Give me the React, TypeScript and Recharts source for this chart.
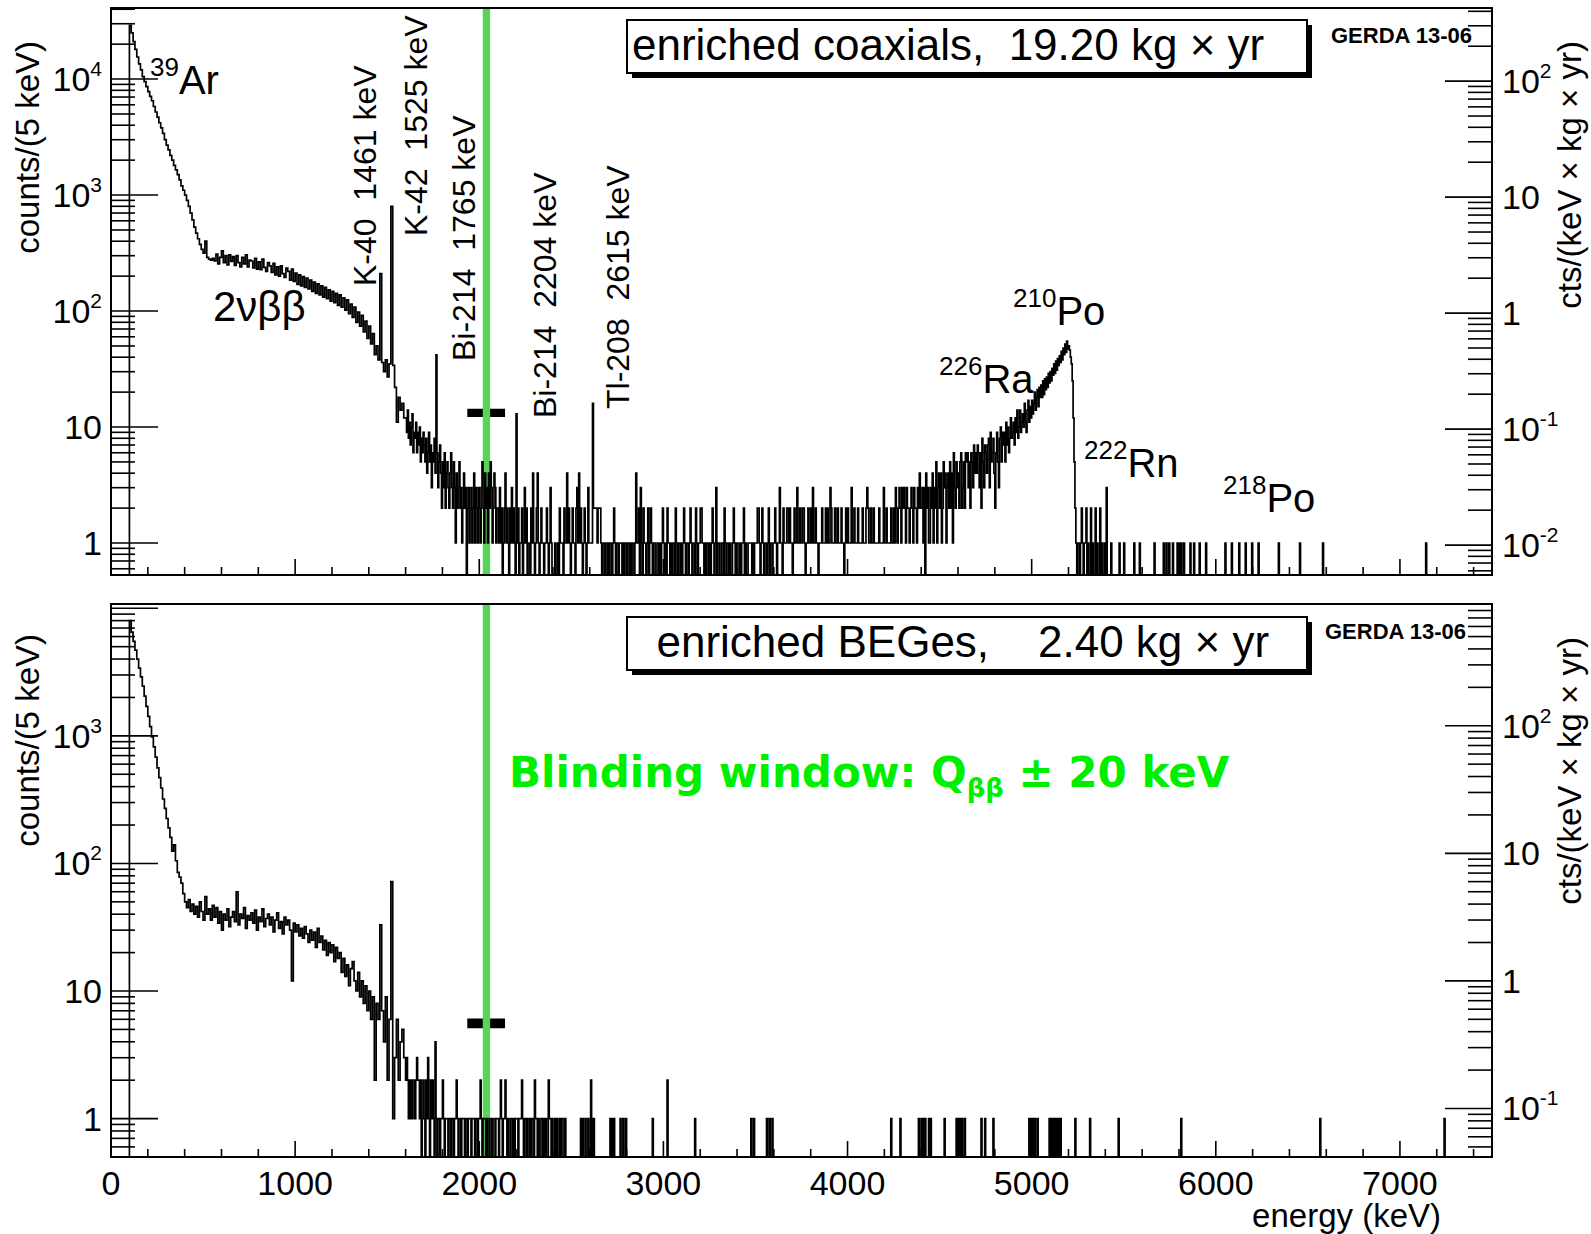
import React from 'react';
import { ComposedChart, Line, XAxis, YAxis, ReferenceArea } from 'recharts';

const W = 1591;
const H = 1234;
const X_MAX = 7500;
const BIN = 5; // keV per bin
const FLOOR = 0.1; // empty bins sit below the log axis and get clipped

// ---------------- enriched coaxials (19.20 kg x yr), counts / 5 keV ----------------
const COAX_EXPOSURE = 19.2;
// 39Ar region, 10 keV steps from 100 keV
const coaxArgon = [
  29000, 25000, 21000, 18000, 15500, 13500, 12000, 10500, 9500, 8600,
  7800, 7100, 6500, 5800, 5200, 4700, 4200, 3800, 3400, 3000,
  2700, 2450, 2200, 2000, 1800, 1650, 1500, 1350, 1200, 1100,
  1000, 900, 800, 700, 610, 530, 470, 420, 375, 340,
  315, 400, 290, 280, 275, 285,
];
// 2nbb continuum + K lines, 10 keV steps from 560 keV
const coaxTwoNu = [
  270, 310, 255, 290, 330, 262, 300, 250, 305, 268,
  295, 248, 300, 262, 240, 290, 255, 305, 240, 275,
  270, 235, 285, 230, 265, 228, 280, 238, 220, 262,
  245, 215, 258, 205, 240, 200, 245, 210, 195, 235,
  220, 185, 230, 180, 212, 170, 205, 165, 198, 160,
  192, 155, 185, 148, 178, 142, 172, 138, 165, 132,
  160, 128, 152, 122, 148, 118, 142, 112, 138, 108,
  130, 102, 125, 95, 115, 88, 108, 80, 98, 74,
  92, 66, 82, 58, 74, 52, 64, 42, 50, 38,
  210, 36, 30, 38, 27, 35, 800, 34, 22, 11,
  18, 14, 16, 12,
];
// 5 keV bins from 1600 keV
const coaxEdge = [
  12, 9, 14, 8, 11, 7, 10, 13, 6, 9,
  8, 11, 6, 9, 7, 10, 5, 8, 6, 9,
  7, 5, 8, 4, 6, 9, 5, 7, 3, 6,
  5, 8, 4, 42, 6, 3, 5, 7, 4, 2,
  5, 3, 6, 2, 4, 5, 3, 2, 4, 6,
  3, 2, 5, 3, 1, 4, 2, 3, 5, 2,
  3, 1, 2, 4, 2, 3, 0, 2, 3, 1,
  2, 3, 1, 2, 4, 1, 3, 2, 1, 3,
  2, 1, 3, 5, 2, 1, 4, 2, 3, 1,
  4, 2, 5, 3, 1, 2, 4, 3, 1, 2,
];
// 5 keV bins from 2100 keV
const coaxFlat = [
  2, 1, 3, 1, 2, 0, 1, 2, 4, 1, 2, 1, 0, 2, 1, 3, 1, 2, 1, 0,
  13, 1, 2, 0, 1, 1, 2, 0, 1, 3, 1, 2, 0, 1, 1, 0, 2, 1, 4, 1,
  0, 1, 2, 4, 1, 0, 1, 2, 1, 1,
  0, 1, 1, 2, 1, 0, 1, 3, 1, 0, 0, 0, 1, 0, 0, 1, 0, 2, 1, 1,
  1, 0, 2, 1, 1, 4, 1, 2, 1, 0, 1, 2, 1, 1, 0, 2, 3, 1, 4, 1,
  2, 1, 0, 1, 2, 1, 0, 1, 3, 1,
  1, 1, 1, 16, 2, 2, 2, 2, 1, 2, 2, 2, 1, 0, 1, 1, 0, 1, 1, 0,
  1, 0, 1, 1, 0, 1, 2, 1, 0, 1, 1, 0, 1, 1, 1, 0, 1, 0, 1, 1,
  0, 1, 1, 0, 1, 0, 1, 1, 0, 1,
  4, 1, 1, 2, 0, 3, 1, 0, 2, 1, 1, 0, 1, 2, 0, 1, 2, 1, 0, 1,
  1, 0, 0, 1, 1, 0, 1, 0, 1, 2, 1, 0, 1, 0, 2, 1, 1, 0, 1, 0,
  1, 1, 0, 2, 1, 0, 1, 1, 0, 1,
  0, 1, 2, 1, 0, 1, 1, 0, 1, 2, 1, 0, 1, 1, 0, 2, 1, 0, 1, 1,
  2, 2, 1, 1, 0, 1, 0, 1, 1, 0, 1, 0, 1, 2, 1, 0, 1, 3, 0, 1,
  1, 0, 0, 1, 1, 0, 2, 1, 0, 1,
  1, 0, 1, 0, 0, 1, 2, 1, 0, 1, 1, 0, 0, 1, 0, 1, 1, 2, 0, 1,
  0, 0, 1, 1, 1, 1, 0, 1, 0, 1, 1, 1, 2, 2, 1, 0, 1, 2, 1, 0,
  1, 1, 0, 1, 2, 0, 1, 1, 0, 1,
  1, 2, 1, 0, 1, 1, 3, 1, 1, 0, 2, 1, 1, 1, 2, 2, 1, 2, 1, 1,
  0, 1, 2, 1, 1, 3, 1, 1, 2, 1, 1, 2, 2, 1, 0, 1, 1, 2, 1, 1,
  2, 1, 3, 1, 1, 2, 1, 1, 0, 1,
  1, 1, 2, 1, 1, 1, 2, 1, 2, 1, 1, 3, 2, 1, 1, 1, 2, 1, 1, 2,
  1, 1, 1, 2, 1, 1, 0, 1, 2, 1, 2, 1, 1, 1, 3, 1, 1, 2, 1, 1,
  1, 2, 1, 1, 1, 1, 2, 1, 1, 1,
  2, 3, 2, 1, 1, 2, 1, 1, 2, 1, 1, 1, 1, 1, 2, 1, 1, 1, 1, 3,
  1, 1, 2, 1, 1, 1, 1, 2, 1, 1, 2, 1, 3, 2, 1, 2, 3, 2, 1, 3,
  2, 3, 2, 1, 3, 2, 2, 1, 2, 3,
  2, 1, 3, 2, 2, 1, 3, 2, 4, 2,
];
// alpha region, 5 keV bins from 4400 keV
const coaxAlpha = [
  2, 3, 1, 3, 0, 4, 2, 3, 1, 1, 3, 2, 4, 1, 3, 2, 5, 1, 3, 4,
  2, 4, 1, 2, 5, 3, 4, 1, 3, 4, 2, 5, 2, 4, 1, 6, 3, 2, 5, 3,
  4, 2, 5, 6, 2, 3, 5, 2, 6, 5,
  6, 3, 5, 2, 6, 5, 3, 7, 4, 6, 4, 7, 6, 3, 6, 2, 8, 5, 3, 7,
  6, 4, 7, 8, 3, 9, 5, 6, 8, 4, 2, 6, 9, 5, 3, 8, 10, 5, 9, 7,
  9, 5, 11, 7, 10, 6, 8, 12, 8, 9,
  11, 7, 12, 9, 14, 8, 10, 14, 9, 11, 13, 10, 16, 11, 9, 14, 17, 11, 15, 12,
  17, 13, 16, 20, 14, 18, 21, 15, 22, 18, 23, 18, 25, 19, 26, 21, 27, 22, 29, 24,
  30, 25, 32, 28, 35, 29, 37, 31, 39, 34,
  41, 36, 45, 38, 48, 42, 52, 44, 55, 47, 50, 46, 40, 35, 25, 12, 5, 2, 1, 0,
  1, 1, 0, 1, 2, 1, 0, 1, 1, 2,
];
// single occupied bins above 5300 keV: [bin start keV, counts]
const coaxHigh: [number, number][] = [
  [5305, 1], [5320, 2], [5330, 1], [5345, 2], [5355, 1], [5370, 2], [5380, 1], [5395, 1],
  [5405, 3], [5430, 1], [5475, 1], [5500, 1], [5555, 1], [5585, 1], [5665, 1], [5715, 1],
  [5730, 1], [5745, 1], [5765, 1], [5790, 1], [5800, 1], [5810, 1], [5825, 1], [5860, 1],
  [5880, 1], [5910, 1], [5945, 1], [6050, 1], [6085, 1], [6125, 1], [6160, 1], [6195, 1],
  [6230, 1], [6340, 1], [6455, 1], [6580, 1], [7140, 1],
];

// ---------------- enriched BEGes (2.40 kg x yr), counts / 5 keV ----------------
const BEGE_EXPOSURE = 2.4;
const begeArgon = [
  8000, 6500, 5500, 4700, 4000, 3400, 2900, 2450, 2050, 1700,
  1420, 1180, 980, 820, 680, 560, 470, 390, 320, 270,
  225, 190, 160, 125, 140, 105, 85, 78, 70, 58,
  50, 45, 52, 42, 48, 40, 46, 38, 50, 42,
  36, 55, 40, 44, 36, 47,
];
const begeTwoNu = [
  38, 45, 34, 42, 30, 40, 36, 44, 32, 38,
  42, 35, 60, 33, 40, 37, 45, 31, 39, 36,
  41, 34, 43, 30, 38, 35, 44, 32, 37, 40,
  33, 38, 29, 36, 41, 31, 35, 28, 38, 33,
  36, 30, 12, 34, 29, 33, 27, 31, 26, 32,
  28, 24, 30, 25, 29, 22, 31, 24, 27, 21,
  25, 19, 24, 20, 23, 17, 22, 18, 20, 14,
  18, 13, 16, 11, 15, 17, 12, 10, 14, 9,
  12, 8, 11, 7, 10, 6, 9, 2, 8, 6,
  33, 7, 4, 9, 2, 6, 72, 1, 3, 6,
  2, 4, 5, 3,
];
const begeEdge = [
  2, 3, 2, 1, 2, 1, 2, 1, 2, 2, 1, 2, 3, 2, 2, 1, 2, 0, 1, 2,
  1, 0, 2, 1, 3, 1, 0, 2, 1, 2, 1, 0, 4, 1, 0, 1, 1, 0, 1, 1,
  2, 1, 0, 1, 1, 1, 0, 1, 1, 0,
  1, 1, 0, 1, 1, 2, 1, 0, 1, 1, 0, 1, 1, 1, 0, 1, 1, 0, 1, 1,
  1, 0, 1, 1, 1, 0, 1, 1, 0, 1, 1, 2, 1, 0, 1, 1, 1, 0, 1, 0,
  0, 1, 1, 0, 1, 1, 0, 0, 1, 1,
  1, 0, 1, 2, 1, 0, 1, 1, 2, 1, 0, 1, 0, 0, 1, 1, 0, 1, 0, 1,
  1, 1, 0, 1, 1, 1, 2, 1, 0, 1, 1, 0, 1, 1, 0, 1, 0, 1, 1, 0,
  2, 1, 1, 0, 1, 0, 0, 1, 1, 0,
  1, 0, 1, 0, 0, 2, 1, 1, 0, 1, 0, 0, 1, 0, 1, 0, 0, 1, 0, 1,
  1, 0, 0, 1, 0, 0, 0, 0, 0, 0,
];
const begeHigh: [number, number][] = [
  [2550, 1], [2560, 1], [2575, 1], [2590, 1], [2605, 2], [2615, 1], [2620, 1], [2710, 1],
  [2720, 1], [2730, 1], [2765, 1], [2780, 1], [2795, 1], [2940, 1], [3020, 2], [3170, 1],
  [3475, 1], [3490, 1], [3560, 1], [3575, 1], [3590, 1], [4235, 1], [4285, 1], [4385, 1],
  [4400, 1], [4410, 1], [4420, 1], [4440, 1], [4450, 1], [4525, 1], [4590, 1], [4600, 1],
  [4610, 1], [4620, 1], [4635, 1], [4725, 1], [4745, 1], [4790, 1], [4985, 1], [4995, 1],
  [5005, 1], [5015, 1], [5030, 1], [5095, 1], [5105, 1], [5115, 1], [5125, 1], [5135, 1],
  [5145, 1], [5155, 1], [5235, 1], [5315, 1], [5470, 1], [5810, 1], [6565, 1], [7240, 1],
];

// blinding window (Qbb +- 20 keV) and blinded-count markers
const BLIND = [2019, 2059];
const BAR_X = [1935, 2140];
const coaxBar = [12.2, 14.4];
const begeBar = [5.1, 6.1];

type Seg = { start: number; step: number; values: number[] };
type Pt = { e: number; c: number };

function buildHist(segs: Seg[], sparseFrom: number, sparse: [number, number][]): Pt[] {
  const pts: Pt[] = [{ e: 0, c: FLOOR }];
  segs.forEach((s) =>
    s.values.forEach((v, i) => pts.push({ e: s.start + i * s.step, c: v > 0 ? v : FLOOR })),
  );
  pts.push({ e: sparseFrom, c: FLOOR });
  sparse.forEach(([e, c]) => {
    pts.push({ e, c });
    pts.push({ e: e + BIN, c: FLOOR });
  });
  pts.push({ e: X_MAX, c: FLOOR });
  return pts;
}

const coaxData = buildHist(
  [
    { start: 100, step: 10, values: coaxArgon },
    { start: 560, step: 10, values: coaxTwoNu },
    { start: 1600, step: 5, values: coaxEdge },
    { start: 2100, step: 5, values: coaxFlat },
    { start: 4400, step: 5, values: coaxAlpha },
  ],
  5300,
  coaxHigh,
);

const begeData = buildHist(
  [
    { start: 100, step: 10, values: begeArgon },
    { start: 560, step: 10, values: begeTwoNu },
    { start: 1600, step: 5, values: begeEdge },
  ],
  2500,
  begeHigh,
);

// ---------------- drawing helpers ----------------
const FONT = '"Liberation Sans", Arial, Helvetica, sans-serif';
const PLOT_L = 111;
const PLOT_R = 1492;
const AXIS_W = 60;
const GREEN_BAND = '#58d458';

const xTicks: number[] = [];
for (let v = 0; v < X_MAX; v += 200) xTicks.push(v);

function logTicks(lo: number, hi: number) {
  const out: number[] = [];
  for (let n = -3; n <= 5; n++) {
    for (let m = 1; m <= 9; m++) {
      const v = +(m * Math.pow(10, n)).toPrecision(3);
      if (v >= lo && v <= hi) out.push(v);
    }
  }
  return out;
}

const isDecade = (v: number) => Math.abs(Math.log10(v) - Math.round(Math.log10(v))) < 1e-6;

function PowLabel({ x, y, v, anchor }: { x: number; y: number; v: number; anchor: 'start' | 'end' }) {
  const n = Math.round(Math.log10(v));
  const base = n === 0 ? '1' : '10';
  const exp = n === 0 || n === 1 ? null : String(n);
  return (
    <text x={x} y={y + 12} textAnchor={anchor} fontFamily={FONT} fontSize={34} fill="#000">
      {base}
      {exp && (
        <tspan dy={-15} fontSize={21}>
          {exp}
        </tspan>
      )}
    </text>
  );
}

// ticks point into the frame; decades too close to the top edge get no label
const makeYTick = (side: 'left' | 'right', plotTop: number) => (props: any) => {
  const { y, payload } = props;
  const major = isDecade(payload.value);
  const len = major ? 47 : 24;
  const showLabel = major && y > plotTop + 12;
  return (
    <g>
      {side === 'left' ? (
        <line x1={PLOT_L} x2={PLOT_L + len} y1={y} y2={y} stroke="#000" strokeWidth={1.6} />
      ) : (
        <line x1={PLOT_R - len} x2={PLOT_R} y1={y} y2={y} stroke="#000" strokeWidth={1.6} />
      )}
      {showLabel && (
        <PowLabel
          x={side === 'left' ? PLOT_L - 9 : PLOT_R + 10}
          y={y}
          v={payload.value}
          anchor={side === 'left' ? 'end' : 'start'}
        />
      )}
    </g>
  );
};

const makeXTick = (bottom: number, labels: boolean) => (props: any) => {
  const { x, payload } = props;
  const major = payload.value % 1000 === 0;
  return (
    <g>
      <line x1={x} x2={x} y1={bottom} y2={bottom - (major ? 16 : 8)} stroke="#000" strokeWidth={1.6} />
      {labels && major && (
        <text x={x} y={bottom + 38} textAnchor="middle" fontFamily={FONT} fontSize={34} fill="#000">
          {payload.value}
        </text>
      )}
    </g>
  );
};

interface PanelProps {
  data: Pt[];
  lo: number;
  hi: number;
  perUnit: number;
  top: number;
  height: number;
  plotTop: number;
  plotBottom: number;
  xAxisH: number;
  xLabels: boolean;
  bar: number[];
}

const Panel = ({ data, lo, hi, perUnit, top, height, plotTop, plotBottom, xAxisH, xLabels, bar }: PanelProps) => {
  const margin = {
    top: plotTop,
    bottom: height - plotBottom - xAxisH,
    left: PLOT_L - AXIS_W,
    right: W - PLOT_R - AXIS_W,
  };
  return (
    <div style={{ position: 'absolute', left: 0, top, width: W, height }}>
      <ComposedChart width={W} height={height} data={data} margin={margin}>
        <XAxis
          xAxisId="x"
          dataKey="e"
          type="number"
          domain={[0, X_MAX]}
          allowDataOverflow
          ticks={xTicks}
          interval={0}
          height={xAxisH}
          axisLine={false}
          tickLine={false}
          tick={makeXTick(plotBottom, xLabels)}
        />
        <YAxis
          yAxisId="l"
          scale="log"
          domain={[lo, hi]}
          allowDataOverflow
          ticks={logTicks(lo, hi)}
          interval={0}
          width={AXIS_W}
          axisLine={false}
          tickLine={false}
          tick={makeYTick('left', plotTop)}
        />
        <YAxis
          yAxisId="r"
          orientation="right"
          scale="log"
          domain={[lo / perUnit, hi / perUnit]}
          allowDataOverflow
          ticks={logTicks(lo / perUnit, hi / perUnit)}
          interval={0}
          width={AXIS_W}
          axisLine={false}
          tickLine={false}
          tick={makeYTick('right', plotTop)}
        />
        <Line
          xAxisId="x"
          yAxisId="l"
          type="stepAfter"
          dataKey="c"
          stroke="#000"
          strokeWidth={1.7}
          dot={false}
          activeDot={false}
          isAnimationActive={false}
        />
        <ReferenceArea xAxisId="x" yAxisId="l" x1={BAR_X[0]} x2={BAR_X[1]} y1={bar[0]} y2={bar[1]} fill="#000" fillOpacity={1} stroke="none" />
        <ReferenceArea xAxisId="x" yAxisId="l" x1={BLIND[0]} x2={BLIND[1]} fill={GREEN_BAND} fillOpacity={1} stroke="none" />
      </ComposedChart>
    </div>
  );
};

const Iso = ({ x, y, mass, name }: { x: number; y: number; mass: string; name: string }) => (
  <text x={x} y={y} fontFamily={FONT} fontSize={40} fill="#000">
    <tspan fontSize={26} dy={-18}>
      {mass}
    </tspan>
    <tspan dy={18}>{name}</tspan>
  </text>
);

const Vert = ({ x, y, label }: { x: number; y: number; label: string }) => (
  <text
    transform={`translate(${x},${y}) rotate(-90)`}
    fontFamily={FONT}
    fontSize={32}
    fill="#000"
    style={{ whiteSpace: 'pre' }}
  >
    {label}
  </text>
);

const Legend = ({ y, label }: { y: number; label: string }) => (
  <g>
    <rect x={632} y={y + 5} width={680} height={53} fill="#000" />
    <rect x={627} y={y} width={680} height={53} fill="#fff" stroke="#000" strokeWidth={2} />
    <text x={632} y={y + 40} fontFamily={FONT} fontSize={44} fill="#000" style={{ whiteSpace: 'pre' }}>
      {label}
    </text>
  </g>
);

export default function App() {
  return (
    <div style={{ position: 'absolute', left: 0, top: 0, width: W, height: H, background: '#fff' }}>
      <Panel
        data={coaxData}
        lo={0.53}
        hi={41000}
        perUnit={BIN * COAX_EXPOSURE}
        top={0}
        height={590}
        plotTop={8}
        plotBottom={575}
        xAxisH={10}
        xLabels={false}
        bar={coaxBar}
      />
      <Panel
        data={begeData}
        lo={0.5}
        hi={10800}
        perUnit={BIN * BEGE_EXPOSURE}
        top={590}
        height={644}
        plotTop={14}
        plotBottom={567}
        xAxisH={30}
        xLabels
        bar={begeBar}
      />
      <svg
        width={W}
        height={H}
        style={{ position: 'absolute', left: 0, top: 0, pointerEvents: 'none' }}
      >
        <rect x={PLOT_L} y={8} width={PLOT_R - PLOT_L} height={567} fill="none" stroke="#000" strokeWidth={2} />
        <rect x={PLOT_L} y={604} width={PLOT_R - PLOT_L} height={553} fill="none" stroke="#000" strokeWidth={2} />

        <Legend y={20} label="enriched coaxials,  19.20 kg × yr" />
        <Legend y={617} label="  enriched BEGes,    2.40 kg × yr" />
        <text x={1331} y={43} fontFamily={FONT} fontSize={22} fontWeight="bold" fill="#000">
          GERDA 13-06
        </text>
        <text x={1325} y={639} fontFamily={FONT} fontSize={22} fontWeight="bold" fill="#000">
          GERDA 13-06
        </text>

        <Iso x={150} y={94} mass="39" name="Ar" />
        <text x={213} y={321} fontFamily={FONT} fontSize={42} fill="#000">
          2νββ
        </text>
        <Vert x={376} y={286} label="K-40  1461 keV" />
        <Vert x={427} y={236} label="K-42  1525 keV" />
        <Vert x={475} y={361} label="Bi-214  1765 keV" />
        <Vert x={556} y={418} label="Bi-214  2204 keV" />
        <Vert x={629} y={409} label="Tl-208  2615 keV" />
        <Iso x={1013} y={325} mass="210" name="Po" />
        <Iso x={939} y={393} mass="226" name="Ra" />
        <Iso x={1084} y={477} mass="222" name="Rn" />
        <Iso x={1223} y={512} mass="218" name="Po" />

        <text x={509} y={787} fontFamily='"DejaVu Sans", sans-serif' fontWeight="bold" fontSize={42} fill="#00ee00">
          Blinding window: Q
          <tspan fontSize={26} dy={10}>
            ββ
          </tspan>
          <tspan dy={-10}> ± 20 keV</tspan>
        </text>

        <text transform="translate(39,41) rotate(-90)" textAnchor="end" fontFamily={FONT} fontSize={33} fill="#000">
          counts/(5 keV)
        </text>
        <text transform="translate(39,634) rotate(-90)" textAnchor="end" fontFamily={FONT} fontSize={33} fill="#000">
          counts/(5 keV)
        </text>
        <text transform="translate(1581,41) rotate(-90)" textAnchor="end" fontFamily={FONT} fontSize={33} fill="#000">
          cts/(keV × kg × yr)
        </text>
        <text transform="translate(1581,637) rotate(-90)" textAnchor="end" fontFamily={FONT} fontSize={33} fill="#000">
          cts/(keV × kg × yr)
        </text>
        <text x={1441} y={1227} textAnchor="end" fontFamily={FONT} fontSize={33} fill="#000">
          energy (keV)
        </text>
      </svg>
    </div>
  );
}
